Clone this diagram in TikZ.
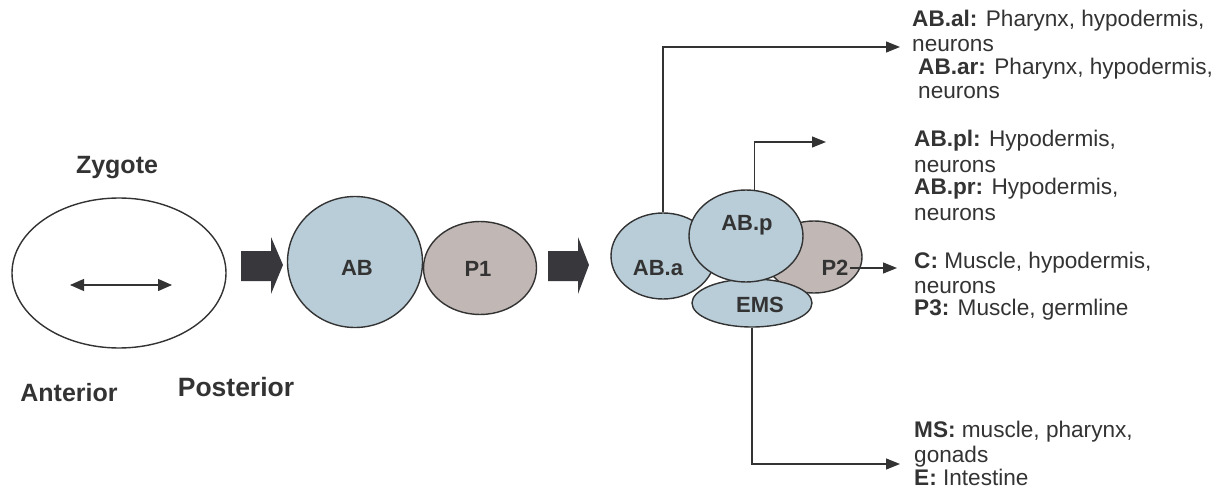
\documentclass[tikz,border=0pt]{standalone}
\usepackage{fontspec}
\setmainfont{Liberation Sans}
\usetikzlibrary{shapes.geometric,arrows.meta}
\definecolor{ink}{HTML}{333333}
\definecolor{cellblue}{HTML}{B8CDD8}
\definecolor{cellmauve}{HTML}{C1B8B5}
\definecolor{blockgray}{HTML}{38373C}
\begin{document}
\begin{tikzpicture}[x=1pt,y=-1pt,
  cell/.style={ellipse,draw=ink,line width=1.4pt,inner sep=0pt},
  celltxt/.style={font=\fontsize{22}{24}\selectfont\bfseries,text=ink,inner sep=1pt},
  big/.style={font=\fontsize{25}{28}\selectfont\bfseries,text=ink,inner sep=1pt},
  fate/.style={font=\fontsize{22.6}{24}\selectfont,text=ink,anchor=base west,inner sep=0pt},
  conn/.style={draw=ink,line width=1.2pt,-{Triangle[length=14pt,width=11pt]}},
  block/.style={fill=blockgray}]
\useasboundingbox (0,0) rectangle (1219,492);

% zygote
\node[cell,fill=white,minimum width=214pt,minimum height=150pt] (zyg) at (119,273) {};
\coordinate (antL) at (70,285);
\coordinate (antR) at (172,285);
\draw[draw=ink,line width=1.2pt,{Triangle[length=14pt,width=12pt]}-{Triangle[length=14pt,width=12pt]}] (antL) -- (antR);
\node[big] (zyglab) at (117,168) {Zygote};
\node[big] (antlab) at (69,393) {Anterior};
\node[big,font=\fontsize{26.5}{28}\selectfont\bfseries] (postlab) at (236,387) {Posterior};

% block arrows
\fill[block] (241,251) -- (271,251) -- (271,237) -- (283,265) -- (271,294) -- (271,281) -- (241,281) -- cycle;
\fill[block] (548,251) -- (578,251) -- (578,237) -- (589,265) -- (578,294) -- (578,281) -- (548,281) -- cycle;

% two-cell stage
\node[cell,fill=cellblue,minimum width=135pt,minimum height=131pt] (ab) at (355,262) {};
\node[cell,fill=cellmauve,minimum width=113pt,minimum height=93pt] (p1) at (480,268) {};
\node[celltxt] (ablab) at (357,268) {AB};
\node[celltxt] (p1lab) at (478,269) {P1};

% four-cell stage
\node[cell,fill=cellblue,minimum width=104pt,minimum height=86pt] (aba) at (663,256) {};
\node[cell,fill=cellmauve,minimum width=96pt,minimum height=72pt] (p2) at (814,257) {};
\node[cell,fill=cellblue,minimum width=120pt,minimum height=48pt] (ems) at (752,303) {};
\node[cell,fill=cellblue,minimum width=114pt,minimum height=92pt] (abp) at (746,236) {};
\node[celltxt] (abalab) at (658,268) {AB.a};
\node[celltxt] (abplab) at (747,225) {AB.p};
\node[celltxt] (p2lab) at (835,268) {P2};
\node[celltxt] (emslab) at (760,305) {EMS};

% connector end points
\coordinate (tA) at (900,47);
\coordinate (tP) at (826,142);
\coordinate (tC) at (897,268);
\coordinate (tE) at (900,464);
\draw[conn] (aba.north) |- (tA);
\draw[conn] (abp.80) |- (tP);
\draw[conn] (p2lab.east) -- (tC);
\draw[conn] (ems.south) |- (tE);

% fates
\node[fate] (f1) at (912,27) {\textbf{AB.al:} Pharynx, hypodermis,};
\node[fate] (f2) at (912,52) {neurons};
\node[fate] (f3) at (918,75) {\textbf{AB.ar:} Pharynx, hypodermis,};
\node[fate] (f4) at (918,99) {neurons};
\node[fate] (f5) at (914,147) {\textbf{AB.pl:} Hypodermis,};
\node[fate] (f6) at (914,172) {neurons};
\node[fate] (f7) at (914,195) {\textbf{AB.pr:} Hypodermis,};
\node[fate] (f8) at (914,220) {neurons};
\node[fate] (f9) at (914,268) {\textbf{C:} Muscle, hypodermis,};
\node[fate] (f10) at (914,293) {neurons};
\node[fate] (f11) at (914,315) {\textbf{P3:} Muscle, germline};
\node[fate] (f12) at (914,437) {\textbf{MS:} muscle, pharynx,};
\node[fate] (f13) at (914,462) {gonads};
\node[fate] (f14) at (914,485) {\textbf{E:} Intestine};
\end{tikzpicture}
\end{document}
